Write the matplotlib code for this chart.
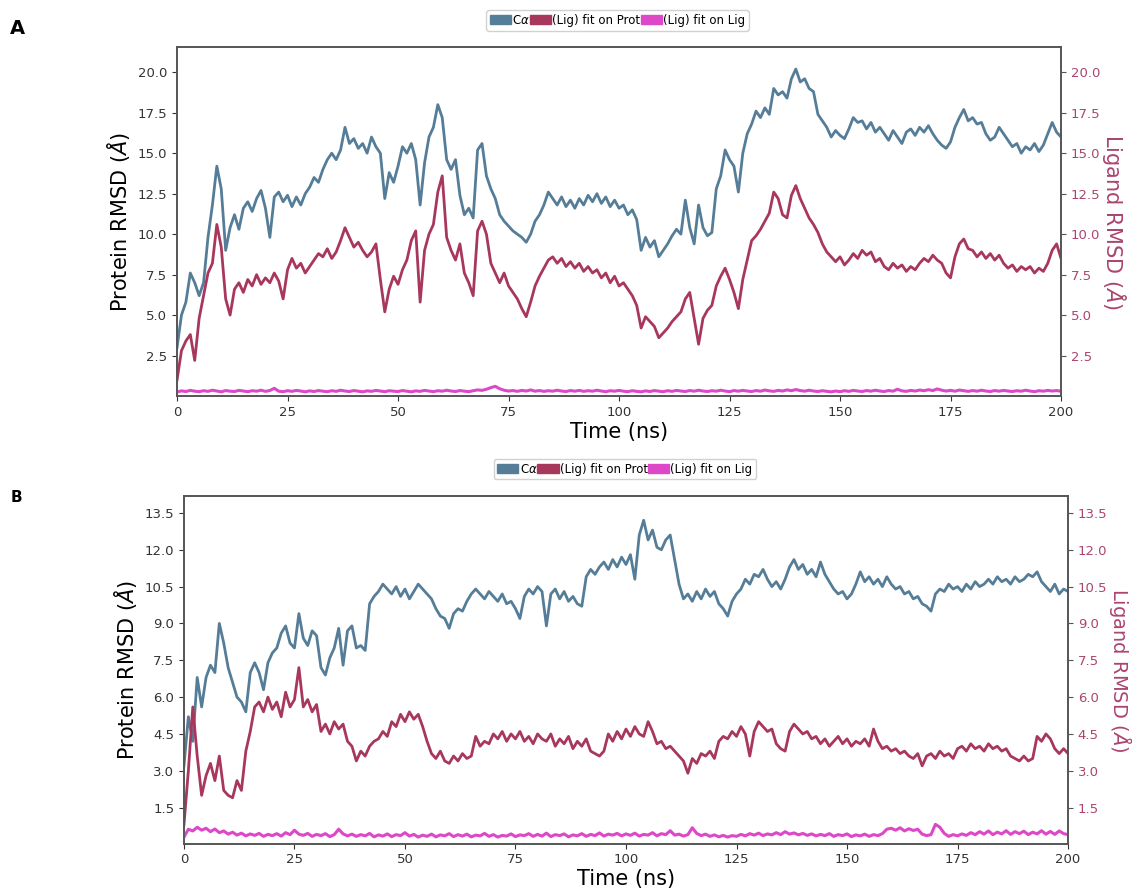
import numpy as np
import matplotlib.pyplot as plt
from matplotlib.patches import Patch

# RMSD traces, one value per ns (0..200 ns)
ca_A = [3.0, 5.0, 5.8, 7.6, 7.0, 6.2, 7.0, 9.8, 11.8, 14.2, 12.8, 9.0, 10.4, 11.2, 10.3, 11.6, 12.0, 11.4, 12.2, 12.7,
        11.6, 9.8, 12.3, 12.6, 12.0, 12.4, 11.7, 12.3, 11.8, 12.5, 12.9, 13.5, 13.2, 14.0, 14.6, 15.0, 14.6, 15.2, 16.6, 15.6,
        15.9, 15.3, 15.6, 15.0, 16.0, 15.4, 15.0, 12.2, 13.8, 13.2, 14.2, 15.4, 15.0, 15.6, 14.6, 11.8, 14.4, 16.0, 16.6, 18.0,
        17.2, 14.6, 14.0, 14.6, 12.4, 11.2, 11.6, 11.0, 15.2, 15.6, 13.6, 12.8, 12.2, 11.2, 10.8, 10.5, 10.2, 10.0, 9.8, 9.5,
        10.0, 10.8, 11.2, 11.8, 12.6, 12.2, 11.8, 12.3, 11.7, 12.1, 11.6, 12.2, 11.8, 12.4, 12.0, 12.5, 11.9, 12.3, 11.7, 12.1,
        11.6, 11.8, 11.2, 11.5, 10.9, 9.0, 9.8, 9.2, 9.6, 8.6, 9.0, 9.4, 9.9, 10.3, 10.0, 12.1, 10.4, 9.4, 11.8, 10.4,
        9.9, 10.1, 12.8, 13.6, 15.2, 14.6, 14.2, 12.6, 15.0, 16.2, 16.8, 17.6, 17.2, 17.8, 17.4, 19.0, 18.6, 18.8, 18.4, 19.6,
        20.2, 19.4, 19.6, 19.0, 18.8, 17.4, 17.0, 16.6, 16.0, 16.4, 16.1, 15.9, 16.5, 17.2, 16.9, 17.0, 16.5, 16.9, 16.3, 16.6,
        16.2, 15.8, 16.4, 16.0, 15.6, 16.3, 16.5, 16.1, 16.6, 16.3, 16.7, 16.2, 15.8, 15.5, 15.3, 15.7, 16.6, 17.2, 17.7, 17.0,
        17.2, 16.8, 16.9, 16.2, 15.8, 16.0, 16.6, 16.2, 15.8, 15.4, 15.6, 15.0, 15.4, 15.2, 15.6, 15.1, 15.5, 16.2, 16.9, 16.3,
        16.0]

lig_prot_A = [1.0, 2.8, 3.4, 3.8, 2.2, 4.8, 6.2, 7.6, 8.2, 10.6, 9.2, 6.0, 5.0, 6.6, 7.0, 6.4, 7.2, 6.8, 7.5, 6.9,
              7.3, 7.0, 7.6, 7.1, 6.0, 7.8, 8.5, 7.9, 8.2, 7.6, 8.0, 8.4, 8.8, 8.6, 9.1, 8.5, 8.9, 9.6, 10.4, 9.8,
              9.2, 9.5, 9.0, 8.6, 8.9, 9.4, 7.2, 5.2, 6.6, 7.4, 6.9, 7.8, 8.4, 9.6, 10.2, 5.8, 9.0, 10.0, 10.6, 12.6,
              13.6, 9.8, 9.0, 8.4, 9.4, 7.6, 7.0, 6.2, 10.2, 10.8, 10.0, 8.2, 7.6, 7.0, 7.6, 6.8, 6.4, 6.0, 5.4, 4.9,
              5.8, 6.8, 7.4, 7.9, 8.4, 8.6, 8.2, 8.5, 8.0, 8.3, 7.9, 8.2, 7.7, 8.0, 7.6, 7.8, 7.3, 7.6, 7.0, 7.4,
              6.8, 7.0, 6.6, 6.2, 5.6, 4.2, 4.9, 4.6, 4.3, 3.6, 3.9, 4.2, 4.6, 4.9, 5.2, 6.0, 6.4, 4.8, 3.2, 4.8,
              5.3, 5.6, 6.8, 7.4, 7.9, 7.2, 6.4, 5.4, 7.2, 8.4, 9.6, 9.9, 10.3, 10.8, 11.3, 12.6, 12.2, 11.2, 11.0, 12.4,
              13.0, 12.2, 11.6, 11.0, 10.6, 10.1, 9.4, 8.9, 8.6, 8.3, 8.6, 8.1, 8.4, 8.8, 8.5, 9.0, 8.7, 8.9, 8.3, 8.5,
              8.0, 7.8, 8.2, 7.9, 8.1, 7.7, 8.0, 7.8, 8.2, 8.5, 8.3, 8.7, 8.4, 8.2, 7.6, 7.3, 8.6, 9.4, 9.7, 9.1,
              9.0, 8.6, 8.9, 8.5, 8.8, 8.4, 8.7, 8.2, 7.9, 8.1, 7.7, 8.0, 7.8, 8.0, 7.6, 7.9, 7.7, 8.2, 9.0, 9.4,
              8.5]

lig_lig_A = [0.25, 0.32, 0.28, 0.35, 0.30, 0.27, 0.33, 0.29, 0.36, 0.31, 0.26, 0.34, 0.30, 0.28, 0.35, 0.31, 0.27, 0.33, 0.30, 0.36,
             0.29, 0.34, 0.48, 0.30, 0.27, 0.33, 0.29, 0.35, 0.31, 0.26, 0.32, 0.28, 0.34, 0.30, 0.27, 0.33, 0.29, 0.36, 0.31, 0.28,
             0.34, 0.30, 0.26, 0.32, 0.29, 0.35, 0.31, 0.27, 0.33, 0.30, 0.28, 0.34, 0.30, 0.26, 0.32, 0.29, 0.35, 0.31, 0.27, 0.33,
             0.30, 0.36, 0.31, 0.28, 0.34, 0.30, 0.27, 0.33, 0.38, 0.35, 0.42, 0.52, 0.60, 0.45, 0.36, 0.31, 0.34, 0.29, 0.35, 0.31,
             0.38, 0.30, 0.34, 0.29, 0.33, 0.30, 0.36, 0.31, 0.28, 0.34, 0.30, 0.35, 0.29, 0.33, 0.30, 0.36, 0.31, 0.27, 0.33, 0.30,
             0.35, 0.30, 0.27, 0.33, 0.29, 0.26, 0.32, 0.28, 0.34, 0.30, 0.27, 0.33, 0.29, 0.35, 0.31, 0.28, 0.34, 0.30, 0.36, 0.31,
             0.28, 0.33, 0.30, 0.36, 0.31, 0.27, 0.34, 0.30, 0.35, 0.31, 0.28, 0.34, 0.30, 0.37, 0.32, 0.29, 0.35, 0.31, 0.38, 0.33,
             0.40, 0.34, 0.30, 0.36, 0.31, 0.28, 0.33, 0.29, 0.26, 0.31, 0.27, 0.33, 0.29, 0.35, 0.31, 0.28, 0.34, 0.30, 0.36, 0.31,
             0.28, 0.34, 0.30, 0.42, 0.32, 0.29, 0.35, 0.31, 0.37, 0.33, 0.39, 0.34, 0.44, 0.36, 0.31, 0.35, 0.30, 0.37, 0.33, 0.29,
             0.34, 0.30, 0.36, 0.31, 0.28, 0.34, 0.30, 0.35, 0.31, 0.28, 0.33, 0.30, 0.36, 0.31, 0.27, 0.33, 0.30, 0.35, 0.31, 0.34,
             0.30]

ca_B = [3.2, 5.2, 4.2, 6.8, 5.6, 6.8, 7.3, 7.0, 9.0, 8.2, 7.2, 6.6, 6.0, 5.8, 5.4, 7.0, 7.4, 7.0, 6.3, 7.4,
        7.8, 8.0, 8.6, 8.9, 8.2, 8.0, 9.4, 8.4, 8.1, 8.7, 8.5, 7.2, 6.9, 7.6, 8.0, 8.8, 7.3, 8.7, 8.9, 8.0,
        8.1, 7.9, 9.8, 10.1, 10.3, 10.6, 10.4, 10.2, 10.5, 10.1, 10.4, 10.0, 10.3, 10.6, 10.4, 10.2, 10.0, 9.6, 9.3, 9.2,
        8.8, 9.4, 9.6, 9.5, 9.9, 10.2, 10.4, 10.2, 10.0, 10.3, 10.1, 9.9, 10.2, 9.8, 9.9, 9.6, 9.2, 10.1, 10.4, 10.2,
        10.5, 10.3, 8.9, 10.2, 10.4, 10.0, 10.3, 9.9, 10.1, 9.8, 9.7, 10.9, 11.2, 11.0, 11.3, 11.5, 11.2, 11.6, 11.3, 11.7,
        11.4, 11.8, 10.8, 12.6, 13.2, 12.4, 12.8, 12.1, 12.0, 12.4, 12.6, 11.6, 10.6, 10.0, 10.2, 9.9, 10.3, 10.0, 10.4, 10.1,
        10.3, 9.8, 9.6, 9.3, 9.9, 10.2, 10.4, 10.8, 10.6, 11.0, 10.9, 11.2, 10.8, 10.5, 10.7, 10.4, 10.8, 11.3, 11.6, 11.2,
        11.4, 11.0, 11.2, 10.9, 11.5, 11.0, 10.7, 10.4, 10.2, 10.3, 10.0, 10.2, 10.6, 11.1, 10.7, 10.9, 10.6, 10.8, 10.5, 10.9,
        10.6, 10.4, 10.5, 10.2, 10.3, 10.0, 10.1, 9.8, 9.7, 9.5, 10.2, 10.4, 10.3, 10.6, 10.4, 10.5, 10.3, 10.6, 10.4, 10.7,
        10.5, 10.6, 10.8, 10.6, 10.9, 10.7, 10.8, 10.6, 10.9, 10.7, 10.8, 11.0, 10.9, 11.1, 10.7, 10.5, 10.3, 10.6, 10.2, 10.4,
        10.3]

lig_prot_B = [0.8, 3.0, 5.6, 3.6, 2.0, 2.8, 3.3, 2.6, 3.6, 2.2, 2.0, 1.9, 2.6, 2.2, 3.8, 4.6, 5.6, 5.8, 5.4, 6.0,
              5.5, 5.8, 5.2, 6.2, 5.6, 5.9, 7.2, 5.6, 5.9, 5.4, 5.7, 4.6, 4.9, 4.5, 5.0, 4.7, 4.9, 4.2, 4.0, 3.4,
              3.8, 3.6, 4.0, 4.2, 4.3, 4.6, 4.4, 5.0, 4.8, 5.3, 5.0, 5.4, 5.1, 5.3, 4.8, 4.2, 3.7, 3.5, 3.8, 3.4,
              3.3, 3.6, 3.4, 3.7, 3.5, 3.6, 4.4, 4.0, 4.2, 4.1, 4.5, 4.3, 4.6, 4.2, 4.5, 4.3, 4.6, 4.2, 4.4, 4.1,
              4.5, 4.3, 4.2, 4.5, 4.0, 4.3, 4.1, 4.4, 3.9, 4.2, 4.0, 4.3, 3.8, 3.7, 3.6, 3.8, 4.5, 4.2, 4.6, 4.3,
              4.7, 4.4, 4.8, 4.5, 4.4, 5.0, 4.6, 4.1, 4.2, 3.9, 4.0, 3.8, 3.6, 3.4, 2.9, 3.5, 3.3, 3.7, 3.6, 3.8,
              3.5, 4.2, 4.4, 4.3, 4.6, 4.4, 4.8, 4.5, 3.6, 4.6, 5.0, 4.8, 4.6, 4.7, 4.1, 3.9, 3.8, 4.6, 4.9, 4.7,
              4.5, 4.6, 4.3, 4.4, 4.1, 4.3, 4.0, 4.2, 4.4, 4.1, 4.3, 4.0, 4.2, 4.1, 4.3, 4.0, 4.7, 4.2, 3.9, 4.0,
              3.8, 3.9, 3.7, 3.8, 3.6, 3.5, 3.7, 3.2, 3.6, 3.7, 3.5, 3.8, 3.6, 3.7, 3.5, 3.9, 4.0, 3.8, 4.1, 3.9,
              4.0, 3.8, 4.1, 3.9, 4.0, 3.8, 3.9, 3.6, 3.5, 3.4, 3.6, 3.4, 3.5, 4.4, 4.2, 4.5, 4.3, 3.9, 3.7, 3.9,
              3.7]

lig_lig_B = [0.30, 0.62, 0.55, 0.70, 0.58, 0.66, 0.52, 0.63, 0.48, 0.55, 0.42, 0.50, 0.38, 0.46, 0.35, 0.43, 0.37, 0.45, 0.33, 0.41,
             0.36, 0.44, 0.34, 0.48, 0.40, 0.58, 0.42, 0.37, 0.45, 0.33, 0.41, 0.36, 0.44, 0.32, 0.40, 0.62, 0.43, 0.35, 0.42, 0.33,
             0.40, 0.35, 0.45, 0.31, 0.39, 0.34, 0.43, 0.32, 0.40, 0.36, 0.48, 0.34, 0.41, 0.30, 0.38, 0.33, 0.42, 0.31, 0.39, 0.35,
             0.44, 0.32, 0.40, 0.34, 0.42, 0.31, 0.38, 0.35, 0.45, 0.33, 0.40, 0.30, 0.37, 0.34, 0.43, 0.32, 0.39, 0.36, 0.44, 0.33,
             0.41, 0.34, 0.46, 0.32, 0.40, 0.36, 0.43, 0.31, 0.39, 0.35, 0.44, 0.33, 0.41, 0.36, 0.47, 0.34, 0.42, 0.38, 0.45, 0.35,
             0.43, 0.37, 0.46, 0.34, 0.41, 0.38, 0.48, 0.35, 0.44, 0.40, 0.56, 0.38, 0.42, 0.34, 0.40, 0.68, 0.45, 0.36, 0.42, 0.33,
             0.39, 0.31, 0.37, 0.30, 0.36, 0.33, 0.41, 0.35, 0.44, 0.38, 0.46, 0.36, 0.43, 0.39, 0.48, 0.40, 0.52, 0.42, 0.47, 0.39,
             0.45, 0.37, 0.43, 0.35, 0.41, 0.36, 0.44, 0.33, 0.40, 0.36, 0.43, 0.32, 0.39, 0.35, 0.42, 0.33, 0.40, 0.36, 0.44, 0.62,
             0.66, 0.58, 0.68, 0.55, 0.64, 0.57, 0.62, 0.42, 0.36, 0.40, 0.82, 0.70, 0.45, 0.33, 0.40, 0.35, 0.43, 0.37, 0.48, 0.40,
             0.52, 0.42, 0.55, 0.40, 0.50, 0.43, 0.56, 0.41, 0.52, 0.44, 0.54, 0.40, 0.50, 0.43, 0.56, 0.42, 0.53, 0.41, 0.55, 0.44,
             0.40]

ticks_A = [2.5, 5.0, 7.5, 10.0, 12.5, 15.0, 17.5, 20.0]
ticks_B = [1.5, 3.0, 4.5, 6.0, 7.5, 9.0, 10.5, 12.0, 13.5]
legend_labels = [r'C$\alpha$', '(Lig) fit on Prot', '(Lig) fit on Lig']

c_ca = '#557d98'
c_prot = '#a8375c'
c_lig = '#dd48c8'
c_right = '#ab4570'


def panel(rect, ca, prot, lig, ticks, ylim, leg_xy, rpad, rsize):
    ax = fig.add_axes(rect)
    ax2 = ax.twinx()
    ax.plot(np.linspace(0, 200, len(ca)), ca, color=c_ca, lw=2.0)
    ax2.plot(np.linspace(0, 200, len(prot)), prot, color=c_prot, lw=2.0)
    ax2.plot(np.linspace(0, 200, len(lig)), lig, color=c_lig, lw=2.2)
    for a in (ax, ax2):
        a.set_ylim(*ylim)
        a.set_yticks(ticks)
        a.set_xlim(0, 200)
    ax.set_xticks([0, 25, 50, 75, 100, 125, 150, 175, 200])
    ax.tick_params(labelsize=9.5, colors='#333333')
    ax2.tick_params(axis='y', labelsize=9.5, labelcolor=c_right, color='#555555')
    for a in (ax, ax2):
        for s in a.spines.values():
            s.set_color('#555555')
            s.set_linewidth(1.2)
    ax.set_xlabel('Time (ns)', fontsize=15, labelpad=2)
    ax.set_ylabel(r'Protein RMSD ($\AA$)', fontsize=15)
    ax2.set_ylabel(r'Ligand RMSD ($\AA$)', fontsize=rsize, color=c_right, rotation=270, labelpad=rpad)
    handles = [Patch(color=c) for c in (c_ca, c_prot, c_lig)]
    fig.legend(handles, legend_labels, loc='center', bbox_to_anchor=leg_xy, ncol=3,
               fontsize=8.5, handlelength=1.8, handleheight=0.8, handletextpad=0.1,
               columnspacing=0.0, borderpad=0.3, fancybox=True, framealpha=0.9)


fig = plt.figure(figsize=(11.32, 8.9), dpi=100)
panel([0.1564, 0.555, 0.7809, 0.392], ca_A, lig_prot_A, lig_lig_A, ticks_A, (0, 21.55), (0.5455, 0.977), 20, 15)
panel([0.1625, 0.052, 0.781, 0.391], ca_B, lig_prot_B, lig_lig_B, ticks_B, (0.03, 14.2), (0.552, 0.473), 19, 14)
fig.text(0.009, 0.962, 'A', fontsize=14, fontweight='bold')
fig.text(0.009, 0.436, 'B', fontsize=11, fontweight='bold')
fig.savefig('out.png', dpi=100)
